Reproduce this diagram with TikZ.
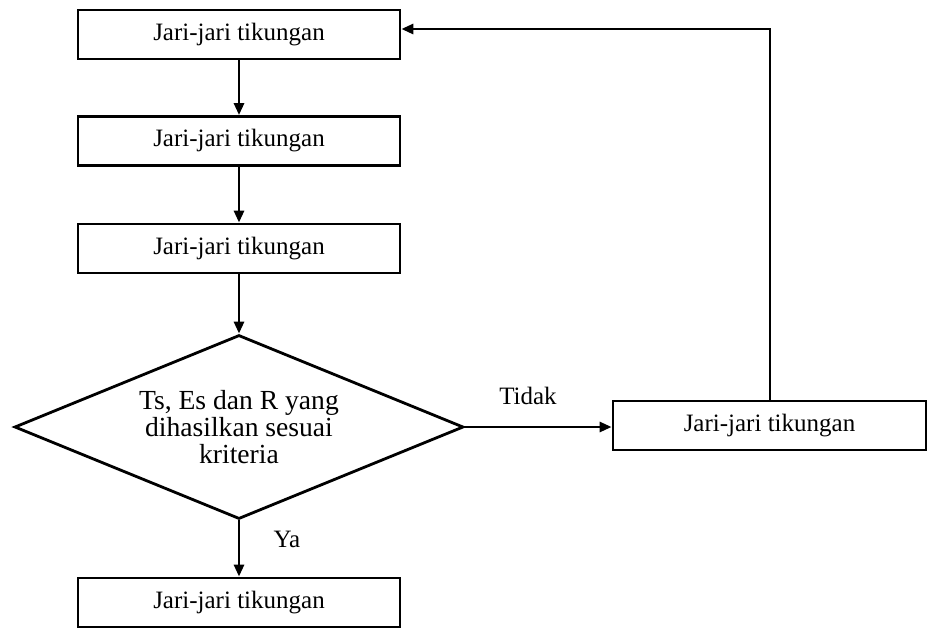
\documentclass[tikz,border=0pt]{standalone}
\usepackage{fontspec}
\setmainfont{Liberation Serif}
\usetikzlibrary{arrows.meta,shapes.geometric}
\begin{document}
\begin{tikzpicture}[x=0.5pt,y=-0.5pt,
  every node/.style={font=\fontsize{12.5pt}{13.6pt}\selectfont},
  procbox/.style={draw,line width=1.4pt,minimum width=161pt,minimum height=24.5pt,inner sep=0pt},
  decision/.style={draw,diamond,aspect=2.44,line width=1.4pt,minimum width=224.5pt,minimum height=92pt,inner sep=0pt,align=center,font=\fontsize{13.8pt}{13.5pt}\selectfont},
  conn/.style={line width=1.4pt,-{Triangle[length=6pt,width=5pt]}},
  lbl/.style={inner sep=0pt}]
\useasboundingbox (0,0) rectangle (927,628);
\node[procbox] (b1) at (239,34.5) {Jari-jari tikungan};
\node[procbox] (b2) at (239,141) {Jari-jari tikungan};
\node[procbox] (b3) at (239,248.5) {Jari-jari tikungan};
\node[decision] (d) at (239,427) {Ts, Es dan R yang\\dihasilkan sesuai\\kriteria};
\node[procbox,minimum width=156.5pt] (r) at (769.5,425.5) {Jari-jari tikungan};
\node[procbox] (b4) at (239,602.5) {Jari-jari tikungan};
\coordinate (c1) at (770,29);
\node[lbl] (tidak) at (528,396) {Tidak};
\node[lbl] (ya) at (287,539) {Ya};
\draw[conn] (b1) -- (b2);
\draw[conn] (b2) -- (b3);
\draw[conn] (b3) -- (d.north);
\draw[conn] (d.east) -- (r.west |- d.east);
\draw[conn] (d.south) -- (b4);
\draw[conn] (r.north -| c1) -- (c1) -- (b1.east |- c1);
\end{tikzpicture}
\end{document}
